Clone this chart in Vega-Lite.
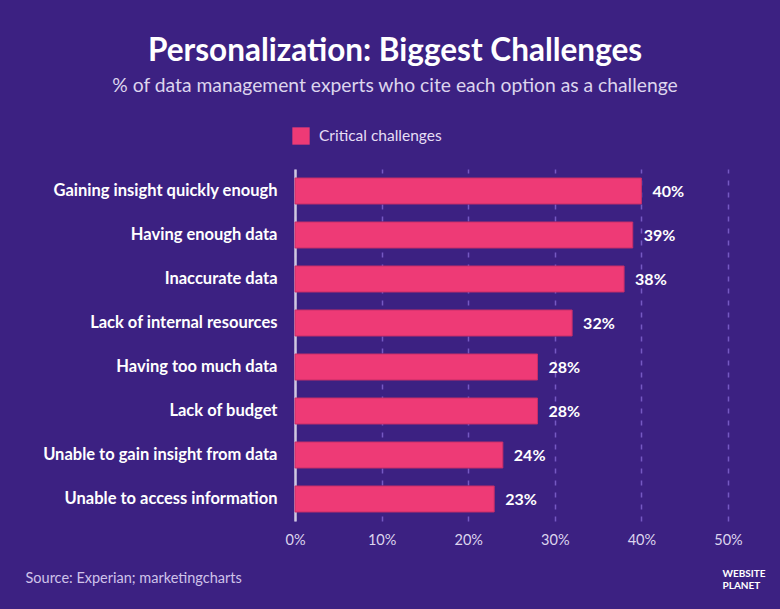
{
  "$schema": "https://vega.github.io/schema/vega-lite/v6.json",
  "width": 433,
  "height": 352,
  "autosize": {"type": "none"},
  "padding": {"left": 295, "top": 169, "right": 52, "bottom": 88},
  "background": "#3c2182",
  "title": {
    "text": "Personalization: Biggest Challenges",
    "subtitle": "% of data management experts who cite each option as a challenge",
    "anchor": "middle",
    "frame": "bounds",
    "font": "Lato",
    "fontSize": 31.5,
    "fontWeight": "bold",
    "color": "#ffffff",
    "subtitleFont": "Lato",
    "subtitleFontSize": 19.3,
    "subtitleColor": "#ddd5ee",
    "subtitlePadding": 9,
    "offset": 31
  },
  "data": {
    "values": [
      {"challenge": "Gaining insight quickly enough", "pct": 0.40, "series": "Critical challenges"},
      {"challenge": "Having enough data", "pct": 0.39, "series": "Critical challenges"},
      {"challenge": "Inaccurate data", "pct": 0.38, "series": "Critical challenges"},
      {"challenge": "Lack of internal resources", "pct": 0.32, "series": "Critical challenges"},
      {"challenge": "Having too much data", "pct": 0.28, "series": "Critical challenges"},
      {"challenge": "Lack of budget", "pct": 0.28, "series": "Critical challenges"},
      {"challenge": "Unable to gain insight from data", "pct": 0.24, "series": "Critical challenges"},
      {"challenge": "Unable to access information", "pct": 0.23, "series": "Critical challenges"}
    ]
  },
  "encoding": {
    "y": {
      "field": "challenge",
      "type": "nominal",
      "sort": null,
      "scale": {"paddingInner": 0.41, "paddingOuter": 0.205},
      "axis": {
        "title": ["WEBSITE", "PLANET"],
        "titleAngle": 0,
        "titleX": 427,
        "titleY": 399,
        "titleAlign": "left",
        "titleBaseline": "top",
        "titleFont": "Lato",
        "titleFontSize": 10,
        "titleFontWeight": "bold",
        "titleColor": "#ffffff",
        "titleLineHeight": 12,
        "labelFont": "Lato",
        "labelFontSize": 16.5,
        "labelFontWeight": "bold",
        "labelColor": "#ffffff",
        "labelPadding": 18,
        "labelLimit": 0,
        "ticks": false,
        "domain": true,
        "domainColor": "#cfc8e0",
        "domainWidth": 2.5,
        "grid": false
      }
    },
    "x": {
      "field": "pct",
      "type": "quantitative",
      "scale": {"domain": [0, 0.5], "nice": false},
      "axis": {
        "values": [0, 0.1, 0.2, 0.3, 0.4, 0.5],
        "format": ".0%",
        "labelFlush": false,
        "title": "Source: Experian; marketingcharts",
        "titleAnchor": "start",
        "titleAlign": "left",
        "titleX": -270,
        "titleY": 57,
        "titleBaseline": "middle",
        "titleFont": "Lato",
        "titleFontSize": 14.5,
        "titleFontWeight": "normal",
        "titleColor": "#cfc3ea",
        "labelFont": "Lato",
        "labelFontSize": 14.5,
        "labelColor": "#ddd5ee",
        "labelPadding": 12,
        "ticks": false,
        "domain": false,
        "grid": true,
        "gridColor": "#7559c2",
        "gridDash": [5, 7],
        "gridWidth": 1.5
      }
    }
  },
  "layer": [
    {
      "mark": {"type": "bar", "color": "#ee3a76", "stroke": "#c92f69", "strokeWidth": 1},
      "encoding": {
        "color": {
          "field": "series",
          "type": "nominal",
          "scale": {"range": ["#ee3a76"]},
          "legend": {
            "title": null,
            "orient": "none",
            "legendX": -3,
            "legendY": -42,
            "symbolType": "square",
            "symbolSize": 300,
            "symbolStrokeWidth": 0,
            "labelFont": "Lato",
            "labelFontSize": 15.5,
            "labelColor": "#e6def5",
            "labelOffset": 9
          }
        }
      }
    },
    {
      "mark": {
        "type": "text",
        "align": "left",
        "baseline": "middle",
        "dx": 11,
        "dy": 1,
        "font": "Lato",
        "fontSize": 16,
        "fontWeight": "bold",
        "color": "#ffffff"
      },
      "encoding": {
        "text": {"field": "pct", "type": "quantitative", "format": ".0%"}
      }
    }
  ],
  "config": {"view": {"stroke": null}}
}
